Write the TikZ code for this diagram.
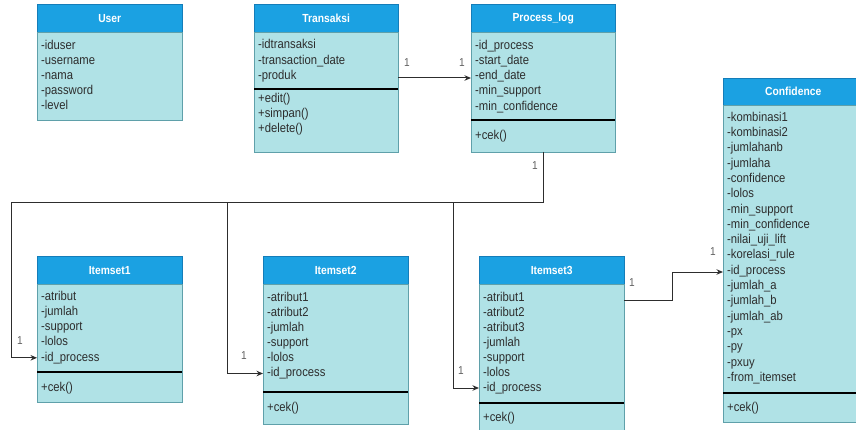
\documentclass[tikz,border=0pt]{standalone}
\usepackage{fontspec}
\setmainfont{Liberation Sans}[FakeStretch=0.88]
\usetikzlibrary{arrows.meta}
\definecolor{hdrfill}{RGB}{27,161,226}
\definecolor{hdrdraw}{RGB}{20,125,185}
\definecolor{bodyfill}{RGB}{176,226,230}
\definecolor{bodydraw}{RGB}{95,160,170}
\definecolor{txtc}{RGB}{45,45,45}
\definecolor{linec}{RGB}{45,45,45}
\tikzset{
 hdr/.style={draw=hdrdraw, fill=hdrfill, text=white, font=\fontsize{11.7}{13}\selectfont\bfseries, anchor=north west, inner sep=0pt, minimum height=28pt},
 bodybox/.style={draw=bodydraw, fill=bodyfill, anchor=north west, inner sep=0pt},
 attr/.style={anchor=west, inner sep=0pt, text=txtc, font=\fontsize{12.8}{14}\selectfont, text height=9pt, text depth=2.5pt},
 sepline/.style={line width=2.5pt, black},
 conn/.style={draw=linec, line width=1pt},
 arr/.style={conn, -{Stealth[length=6.5pt,width=5.5pt]}},
 mult/.style={text=txtc!75, font=\fontsize{11.5}{13}\selectfont, inner sep=0pt}
}
\begin{document}
\begin{tikzpicture}[x=1pt,y=-1pt]
\clip (0,0) rectangle (856,430);
\fill[white] (0,0) rectangle (856,430);

% ---------- boxes ----------
% User
\node[hdr, minimum width=145pt] (user) at (37,4) {User};
\node[bodybox, minimum width=145pt, minimum height=88pt] (userb) at (user.south west) {};
\foreach \t [count=\i from 0] in {-iduser,-username,-nama,-password,-level}
  \node[attr] (u\i) at (41,46+15*\i) {\t};

% Transaksi
\node[hdr, minimum width=144pt] (tr) at (254,4) {Transaksi};
\node[bodybox, minimum width=144pt, minimum height=120pt] (trb) at (tr.south west) {};
\node[attr] (t0) at (258,45) {-idtransaksi};
\node[attr] (t1) at (258,61) {-transaction\_date};
\node[attr] (t2) at (258,76) {-produk};
\draw[sepline] (254,89) -- (398,89);
\node[attr] (t3) at (258,99) {+edit()};
\node[attr] (t4) at (258,114) {+simpan()};
\node[attr] (t5) at (258,129) {+delete()};

% Process_log
\node[hdr, minimum width=144pt] (pl) at (471,4) {Process\_log};
\node[bodybox, minimum width=144pt, minimum height=120pt] (plb) at (pl.south west) {};
\foreach \t [count=\i from 0] in {-id\_process,-start\_date,-end\_date,-min\_support,-min\_confidence}
  \node[attr] (p\i) at (475,46+15.2*\i) {\t};
\draw[sepline] (471,120) -- (615,120);
\node[attr] (p5) at (475,136) {+cek()};

% Confidence
\node[hdr, minimum width=140pt, minimum height=27pt] (cf) at (723,78) {Confidence};
\node[bodybox, minimum width=140pt, minimum height=317pt] (cfb) at (cf.south west) {};
\foreach \t [count=\i from 0] in {-kombinasi1,-kombinasi2,-jumlahanb,-jumlaha,-confidence,-lolos,-min\_support,-min\_confidence,-nilai\_uji\_lift,-korelasi\_rule,-id\_process,-jumlah\_a,-jumlah\_b,-jumlah\_ab,-px,-py,-pxuy,-from\_itemset}
  \node[attr] (c\i) at (727,118+15.3*\i) {\t};
\draw[sepline] (723,393) -- (863,393);
\node[attr] (ccek) at (727,408) {+cek()};

% Itemset1
\node[hdr, minimum width=145pt] (i1) at (37,256) {Itemset1};
\node[bodybox, minimum width=145pt, minimum height=118pt] (i1b) at (i1.south west) {};
\foreach \t [count=\i from 0] in {-atribut,-jumlah,-support,-lolos,-id\_process}
  \node[attr] (a\i) at (41,297+15.2*\i) {\t};
\draw[sepline] (37,372) -- (182,372);
\node[attr] (acek) at (41,388) {+cek()};

% Itemset2
\node[hdr, minimum width=145pt] (i2) at (263,256) {Itemset2};
\node[bodybox, minimum width=145pt, minimum height=140pt] (i2b) at (i2.south west) {};
\foreach \t [count=\i from 0] in {-atribut1,-atribut2,-jumlah,-support,-lolos,-id\_process}
  \node[attr] (b\i) at (267,298+15.1*\i) {\t};
\draw[sepline] (263,392) -- (408,392);
\node[attr] (bcek) at (267,408) {+cek()};

% Itemset3
\node[hdr, minimum width=145pt] (i3) at (479,256) {Itemset3};
\node[bodybox, minimum width=145pt, minimum height=160pt] (i3b) at (i3.south west) {};
\foreach \t [count=\i from 0] in {-atribut1,-atribut2,-atribut3,-jumlah,-support,-lolos,-id\_process}
  \node[attr] (d\i) at (483,298+15*\i) {\t};
\draw[sepline] (479,403) -- (624,403);
\node[attr] (dcek) at (483,418) {+cek()};

% ---------- connectors ----------
\coordinate (trout) at (trb.east |- 0,78);
\draw[arr] (trout) -- (trout -| plb.west);
\node[mult] at (407,63) {1};
\node[mult] at (462,63) {1};

\coordinate (plout) at (543,152);
\coordinate (bus) at (543,203);
\draw[arr] (plout) -- (bus) -- (11,203) |- (i1b.west |- a4);
\draw[arr] (227,203) |- (i2b.west |- b5);
\draw[arr] (453,203) |- (i3b.west |- d6);
\node[mult] at (535,166) {1};
\node[mult] at (20,341) {1};
\node[mult] at (244,356) {1};
\node[mult] at (461,371) {1};

\coordinate (i3out) at (i3b.east |- 0,300);
\draw[arr] (i3out) -- (672,300) -- (672,272) -- (cfb.west |- 0,272);
\node[mult] at (632,283) {1};
\node[mult] at (713,252) {1};
\end{tikzpicture}
\end{document}
